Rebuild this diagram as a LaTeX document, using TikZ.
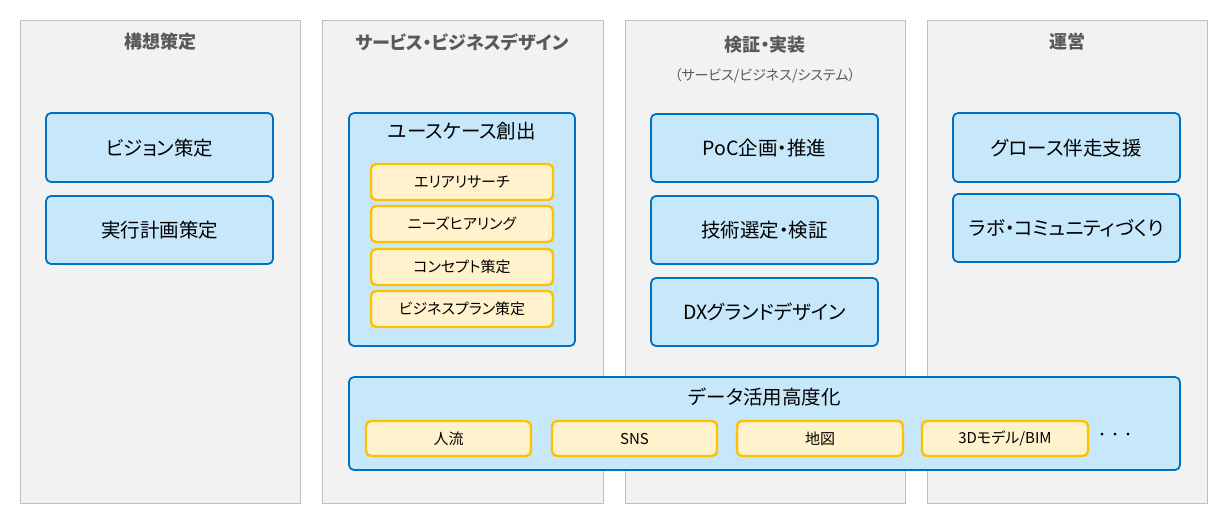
\documentclass[tikz,border=0pt]{standalone}
\usepackage{fontspec}
\setmainfont{Noto Sans CJK JP}[RawFeature=+palt]
\newfontfamily\jpfull{Noto Sans CJK JP}
\definecolor{colbg}{HTML}{F2F2F2}
\definecolor{colbd}{HTML}{BFBFBF}
\definecolor{bluefill}{HTML}{C7E8FA}
\definecolor{blueline}{HTML}{0070C0}
\definecolor{yelfill}{HTML}{FFF2CC}
\definecolor{yelline}{HTML}{FFC000}
\definecolor{titlegray}{HTML}{595959}
\tikzset{
  colbox/.style={draw=colbd, fill=colbg, line width=1pt},
  bluebox/.style={draw=blueline, fill=bluefill, line width=1.8pt, rounded corners=5pt},
  yelbox/.style={draw=yelline, fill=yelfill, line width=2.4pt, rounded corners=5pt},
  coltitle/.style={text=titlegray, font=\bfseries\fontsize{18}{20}\selectfont},
  subtitle/.style={text=titlegray, font=\fontsize{14}{16}\selectfont},
  bluetext/.style={font=\fontsize{19.5}{22}\selectfont},
  yeltext/.style={font=\fontsize{15}{17}\selectfont},
  dotstext/.style={font=\jpfull\fontsize{13}{15}\selectfont},
}
\begin{document}
\begin{tikzpicture}[x=1pt,y=-1pt]
\useasboundingbox (0,0) rectangle (1229,525);
% columns
\path[colbox] (20,20) rectangle (300,503);
\path[colbox] (322,20) rectangle (603,503);
\path[colbox] (625,20) rectangle (905,503);
\path[colbox] (927,20) rectangle (1207,503);
\node[coltitle] (t1) at (160,42) {構想策定};
\node[coltitle] (t2) at (462,42) {サービス・ビジネスデザイン};
\node[coltitle] (t3) at (765,45) {検証・実装};
\node[subtitle] (t3s) at (765,76) {（サービス/ビジネス/システム）};
\node[coltitle] (t4) at (1067,42) {運営};
% column 1
\draw[bluebox] (46,113) rectangle (273,182);
\node[bluetext] (v1) at (159.5,148) {ビジョン策定};
\draw[bluebox] (46,196) rectangle (273,264);
\node[bluetext] (v2) at (159.5,230) {実行計画策定};
% column 2
\draw[bluebox] (349,113) rectangle (575,346);
\node[bluetext] (uc) at (462,131) {ユースケース創出};
\draw[yelbox] (371,164) rectangle (553,200);
\node[yeltext] (y1) at (462,182) {エリアリサーチ};
\draw[yelbox] (371,206) rectangle (553,242);
\node[yeltext] (y2) at (462,224) {ニーズヒアリング};
\draw[yelbox] (371,249) rectangle (553,285);
\node[yeltext] (y3) at (462,267) {コンセプト策定};
\draw[yelbox] (371,291) rectangle (553,327);
\node[yeltext] (y4) at (462,309) {ビジネスプラン策定};
% column 3
\draw[bluebox] (651,114) rectangle (878,182);
\node[bluetext] (p1) at (764.5,148) {PoC企画・推進};
\draw[bluebox] (651,196) rectangle (878,264);
\node[bluetext] (p2) at (764.5,230) {技術選定・検証};
\draw[bluebox] (651,278) rectangle (878,346);
\node[bluetext] (p3) at (764.5,312) {DXグランドデザイン};
% column 4
\draw[bluebox] (953,113) rectangle (1180,182);
\node[bluetext] (g1) at (1066.5,148) {グロース伴走支援};
\draw[bluebox] (953,194) rectangle (1180,262);
\node[bluetext] (g2) at (1066.5,228) {ラボ・コミュニティづくり};
% data
\draw[bluebox] (349,377) rectangle (1180,470);
\node[bluetext] (d0) at (764.5,397) {データ活用高度化};
\draw[yelbox] (366,421) rectangle (531,456);
\node[yeltext] (d1) at (448.5,438.5) {人流};
\draw[yelbox] (552,421) rectangle (717,456);
\node[yeltext] (d2) at (634.5,438.5) {SNS};
\draw[yelbox] (737,421) rectangle (903,456);
\node[yeltext] (d3) at (820,438.5) {地図};
\draw[yelbox] (922,421) rectangle (1088,456);
\node[yeltext] (d4) at (1005,438.5) {3Dモデル/BIM};
\node[dotstext] (dots) at (1115,436) {・・・};
\end{tikzpicture}
\end{document}
